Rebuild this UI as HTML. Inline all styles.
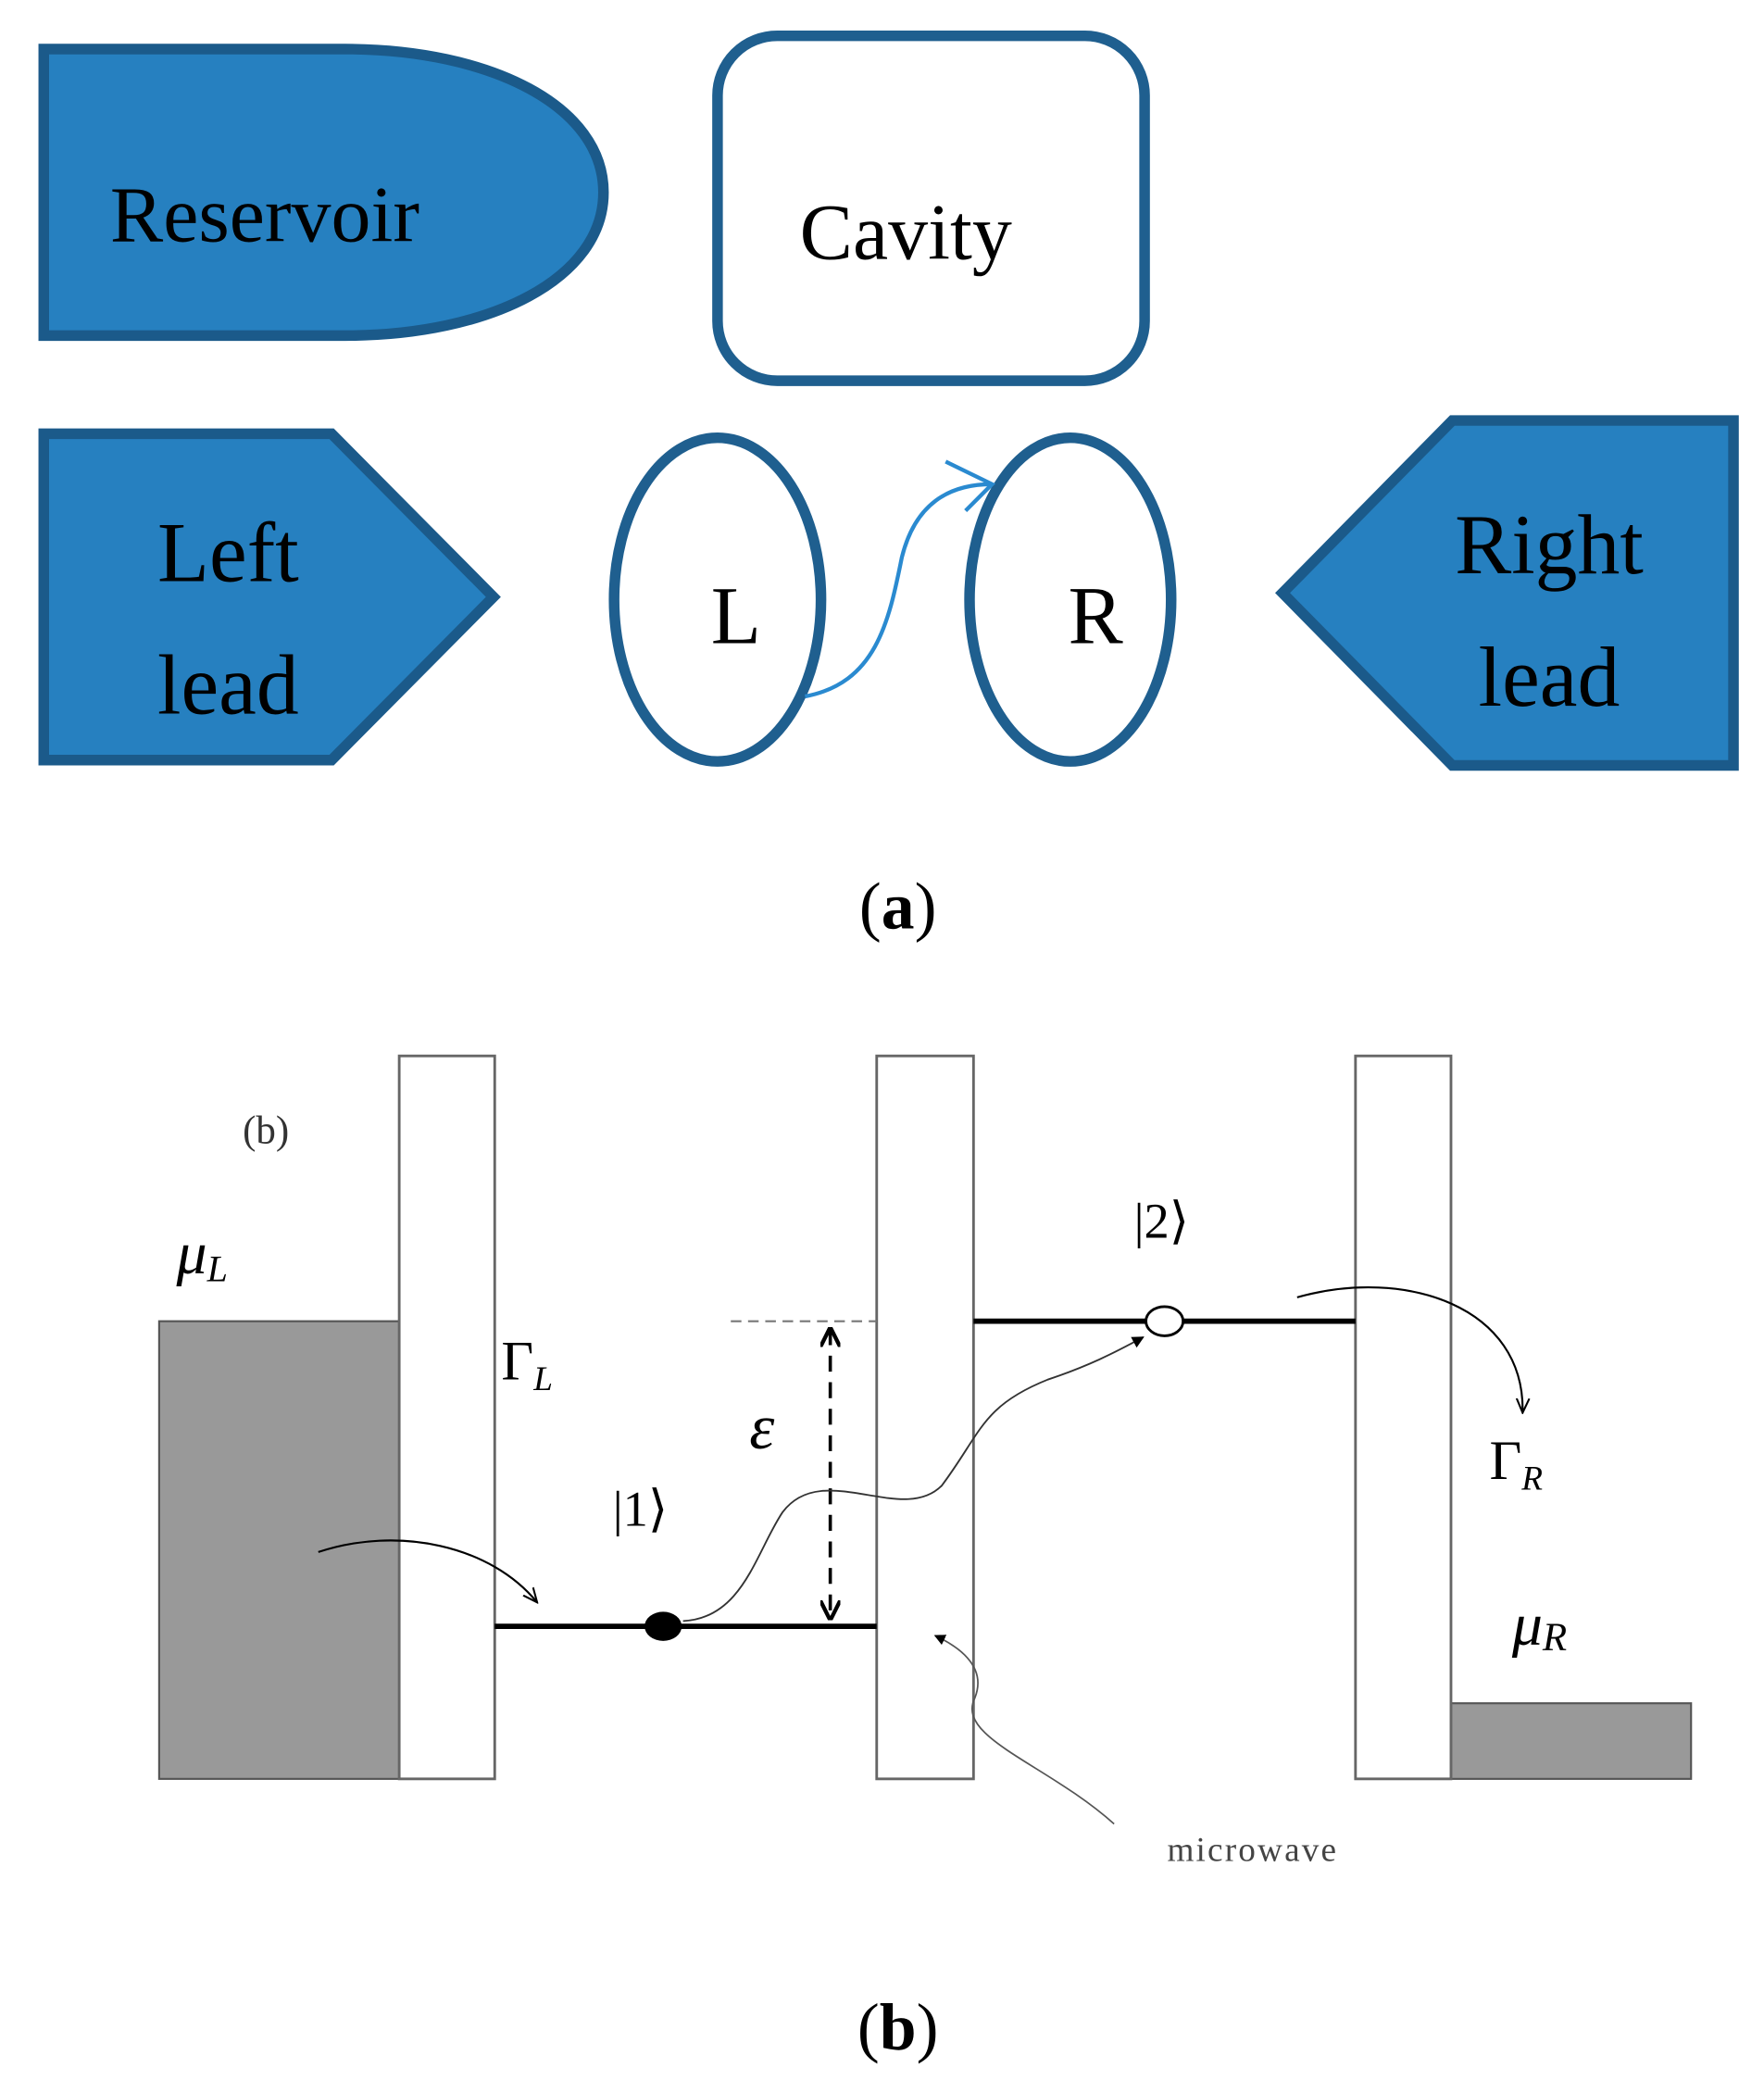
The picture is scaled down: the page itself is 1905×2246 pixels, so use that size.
<!DOCTYPE html>
<html><head><meta charset="utf-8"><style>
html,body{margin:0;padding:0;background:#fff;}
svg{display:block;}
text{font-family:"Liberation Serif",serif;}
</style></head><body>
<svg width="1905" height="2246" viewBox="0 0 1330 1568" preserveAspectRatio="none" xmlns="http://www.w3.org/2000/svg">
<defs>
<marker id="ah" viewBox="0 0 10 10" refX="9" refY="5" markerWidth="7" markerHeight="7" orient="auto"><path d="M0,0 L10,5 L0,10 z" fill="#000"/></marker>
<marker id="ad" viewBox="0 0 10 10" refX="9" refY="5" markerWidth="6" markerHeight="6" orient="auto-start-reverse"><path d="M0,0 L10,5 L0,10" fill="none" stroke="#000" stroke-width="2"/></marker>
<marker id="ao" viewBox="0 0 10 10" refX="9" refY="5" markerWidth="8" markerHeight="8" orient="auto"><path d="M0,1 L9,5 L0,9" fill="none" stroke="#000" stroke-width="1.2"/></marker>
</defs>
<path d="M33,37 L260,37 C370,37 455,80 455,145 C455,210 370,253 260,253 L33,253 Z" fill="#2680c0" stroke="#1b5a8a" stroke-width="8"/>
<rect x="541" y="27" width="322" height="260" rx="45" fill="#fff" stroke="#1f5f8f" stroke-width="8"/>
<polygon points="33,327 250,327 372,450 250,573 33,573" fill="#2680c0" stroke="#1b5a8a" stroke-width="8"/>
<polygon points="1307,317 1095,317 967,447 1095,577 1307,577" fill="#2680c0" stroke="#1b5a8a" stroke-width="8"/>
<ellipse cx="541" cy="452" rx="78" ry="122" fill="#fff" stroke="#1f5f8f" stroke-width="8"/>
<ellipse cx="807" cy="452" rx="76" ry="122" fill="#fff" stroke="#1f5f8f" stroke-width="8"/>
<path d="M607,525 C660,515 670,470 680,420 C690,380 715,365 748,365" fill="none" stroke="#2a8ad0" stroke-width="3"/>
<path d="M713,348 L748,365 L728,385" fill="none" stroke="#2a8ad0" stroke-width="3"/>
<text x="83" y="182" font-size="60">Reservoir</text>
<text x="603" y="195" font-size="60">Cavity</text>
<text x="172" y="438" font-size="64" text-anchor="middle">Left</text>
<text x="172" y="538" font-size="64" text-anchor="middle">lead</text>
<text x="555" y="485" font-size="62" text-anchor="middle">L</text>
<text x="826" y="485" font-size="62" text-anchor="middle">R</text>
<text x="1168" y="432" font-size="64" text-anchor="middle">Right</text>
<text x="1168" y="532" font-size="64" text-anchor="middle">lead</text>
<text x="677" y="700" font-size="50" text-anchor="middle">(<tspan font-weight="bold">a</tspan>)</text>
<rect x="120" y="996" width="181" height="345" fill="#999" stroke="#555" stroke-width="1.5"/>
<rect x="1094" y="1284" width="181" height="57" fill="#999" stroke="#555" stroke-width="1.5"/>
<rect x="301" y="796" width="72" height="545" fill="#fff" stroke="#666" stroke-width="2"/>
<rect x="661" y="796" width="73" height="545" fill="#fff" stroke="#666" stroke-width="2"/>
<rect x="1022" y="796" width="72" height="545" fill="#fff" stroke="#666" stroke-width="2"/>
<line x1="373" y1="1226" x2="661" y2="1226" stroke="#000" stroke-width="4"/>
<line x1="734" y1="996" x2="1022" y2="996" stroke="#000" stroke-width="4"/>
<line x1="551" y1="996" x2="661" y2="996" stroke="#777" stroke-width="1.5" stroke-dasharray="8,5"/>
<line x1="626" y1="1002" x2="626" y2="1220" stroke="#000" stroke-width="2.5" stroke-dasharray="12,8" marker-start="url(#ad)" marker-end="url(#ad)"/>
<ellipse cx="500" cy="1226" rx="14" ry="11" fill="#000"/>
<path d="M515,1222 C560,1220 570,1170 590,1140 C620,1100 680,1150 710,1120 C740,1080 740,1060 790,1040 C820,1030 840,1020 862,1008" fill="none" stroke="#333" stroke-width="1.3" marker-end="url(#ah)"/>
<ellipse cx="878" cy="996" rx="14" ry="11" fill="#fff" stroke="#000" stroke-width="2"/>
<path d="M240,1170 C300,1150 370,1165 405,1208" fill="none" stroke="#000" stroke-width="1.5" marker-end="url(#ao)"/>
<path d="M978,978 C1060,955 1150,985 1148,1065" fill="none" stroke="#000" stroke-width="1.5" marker-end="url(#ao)"/>
<path d="M840,1375 C790,1330 720,1310 735,1280 C745,1255 720,1240 705,1233" fill="none" stroke="#555" stroke-width="1.2" marker-end="url(#ah)"/>
<text x="183" y="862" font-size="30" fill="#333">(b)</text>
<text x="133" y="960" font-size="46" font-style="italic">μ<tspan font-size="28" dy="6">L</tspan></text>
<text x="378" y="1040" font-size="42">Γ<tspan font-size="26" font-style="italic" dy="8">L</tspan></text>
<text x="565" y="1092" font-size="48" font-style="italic">ε</text>
<text x="462" y="1150" font-size="38">|1⟩</text>
<text x="855" y="933" font-size="38">|2⟩</text>
<text x="1123" y="1115" font-size="42">Γ<tspan font-size="26" font-style="italic" dy="8">R</tspan></text>
<text x="1140" y="1240" font-size="46" font-style="italic">μ<tspan font-size="30" dy="4">R</tspan></text>
<text x="880" y="1403" font-size="26" fill="#444" letter-spacing="1.5">microwave</text>
<text x="677" y="1545" font-size="50" text-anchor="middle">(<tspan font-weight="bold">b</tspan>)</text>
</svg>
</body></html>
